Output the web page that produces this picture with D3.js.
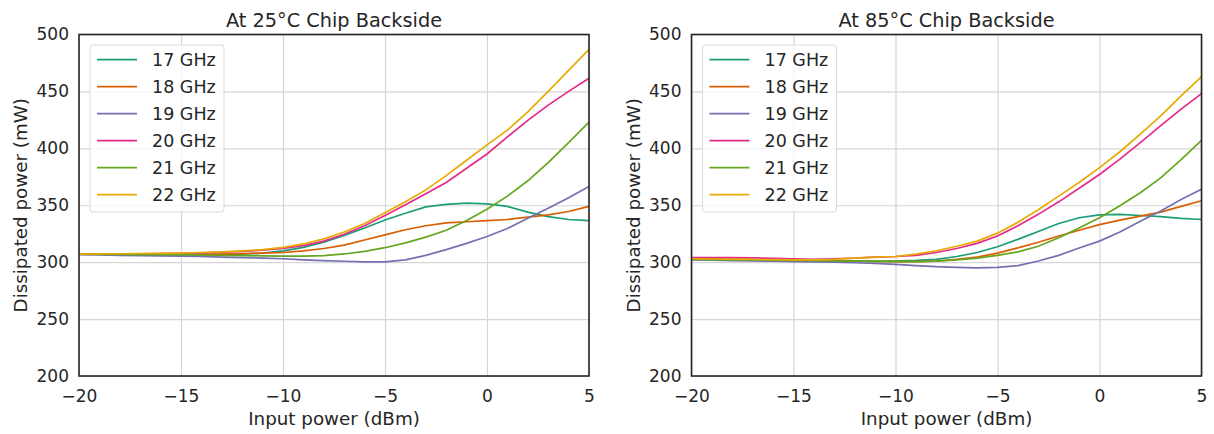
<!DOCTYPE html>
<html>
<head>
<meta charset="utf-8">
<script src="https://cdn.jsdelivr.net/npm/d3@7"></script>
<style>
  body { margin: 0; background: #fff; }
  svg text { font-family: "DejaVu Sans", sans-serif; }
  .grid line { stroke: #d6d6d6; stroke-width: 1.2; }
  .grid path { display: none; }
  .tick text { fill: #262626; font-size: 17px; }
</style>
</head>
<body>
<svg id="chart" width="1214" height="434"></svg>
<script>
// input power sweep (dBm)
var inputPower = [-20, -19, -18, -17, -16, -15, -14, -13, -12, -11, -10, -9, -8, -7, -6, -5, -4, -3, -2, -1, 0, 1, 2, 3, 4, 5];
var freqLabels = ["17 GHz", "18 GHz", "19 GHz", "20 GHz", "21 GHz", "22 GHz"];
var lineColors = ["#1b9e77", "#d95f02", "#7570b3", "#e7298a", "#66a61e", "#e6ab02"];
var xTicks = [-20, -15, -10, -5, 0, 5];
var yTicks = [200, 250, 300, 350, 400, 450, 500];

// dissipated power (mW) at 25 degC chip backside
var p25_17 = [307, 307, 306.8, 306.7, 306.5, 306.4, 306.4, 306.6, 307, 308, 310, 313, 317.5, 323.5, 330, 337, 343, 348.5, 350.8, 351.8, 351.2, 349, 344, 340, 337.5, 336.5];
var p25_18 = [307, 307, 307, 307, 307, 307, 307, 307, 307.5, 308, 308.5, 310, 312, 315, 319.5, 324, 328.5, 332, 334.5, 335.5, 336.5, 337.5, 339.5, 341.5, 344.5, 349];
var p25_19 = [306.5, 306.3, 306, 305.8, 305.5, 305.2, 305, 304.5, 304, 303.5, 303, 302, 301.3, 300.8, 300.2, 300.3, 302, 306, 311, 316.5, 322.5, 329.5, 338.5, 347.3, 356.5, 366.5];
var p25_20 = [307, 307, 307.2, 307.4, 307.6, 307.8, 308.2, 308.7, 309.5, 310.5, 312, 314.5, 318.5, 324.5, 332, 341, 350.5, 360, 370, 382.5, 395, 410, 424.5, 438, 450, 461.5];
var p25_21 = [307, 306.9, 306.8, 306.7, 306.6, 306.5, 306.3, 306, 305.8, 305.5, 305.3, 305.3, 305.8, 307.2, 309.5, 312.7, 317, 322, 328, 336.5, 346.5, 358, 371.5, 387.5, 405, 423];
var p25_22 = [307, 307.2, 307.4, 307.6, 307.8, 308, 308.5, 309, 310, 311, 313, 316, 320.5, 326.5, 334, 343.5, 353, 363.5, 376, 389.5, 403, 416, 432, 450, 468.5, 487];

// dissipated power (mW) at 85 degC chip backside
var p85_17 = [303, 302.8, 302.5, 302.2, 302, 301.5, 301, 301, 301, 301, 301, 301.5, 302.5, 305, 308.5, 313.5, 320, 327, 334, 339, 341.5, 342, 341, 340, 338.5, 337.5];
var p85_18 = [303, 302.8, 302.5, 302.2, 302, 301.5, 301.2, 301, 300.8, 300.6, 300.5, 300.5, 301, 302.5, 304.5, 308, 312.5, 317.5, 323, 328, 333, 337, 340.5, 344, 349, 354];
var p85_19 = [302, 301.7, 301.4, 301.1, 300.8, 300.5, 300.2, 300, 299.5, 299, 298, 297, 296, 295.5, 295, 295.5, 297, 301, 306, 312.5, 318.5, 326.5, 336, 345, 355, 364];
var p85_20 = [304, 304, 304, 303.7, 303.4, 303, 302.5, 303, 303.5, 304.5, 305, 306, 308.5, 312, 316.5, 323, 332, 342, 353, 365, 377, 390.5, 405, 420, 434.5, 448];
var p85_21 = [302.5, 302.3, 302.1, 301.9, 301.7, 301.5, 301.3, 301.1, 300.9, 300.7, 300.5, 300.5, 301, 302, 303.5, 306, 309, 314, 321.5, 330, 339, 349.5, 361, 374, 390, 407];
var p85_22 = [303, 302.8, 302.6, 302.4, 302.2, 302, 302, 302.5, 303.5, 304.5, 305, 307, 310, 314, 318.5, 325.5, 335, 346, 358, 370, 383, 397, 412.5, 428.5, 446, 463];

var panels = [
    {title: "At 25\u00B0C Chip Backside", left: 79, series: [p25_17, p25_18, p25_19, p25_20, p25_21, p25_22]},
    {title: "At 85\u00B0C Chip Backside", left: 691.5, series: [p85_17, p85_18, p85_19, p85_20, p85_21, p85_22]}
];

var plotTop = 34.5, pw = 510, ph = 341.5;
var svg = d3.select("#chart");

panels.forEach(function(p) {
    var g = svg.append("g")
        .attr("transform", "translate(" + p.left + "," + plotTop + ")");

    var x = d3.scaleLinear().domain([-20, 5]).range([0, pw]);
    var y = d3.scaleLinear().domain([200, 500]).range([ph, 0]);

    //grid
    g.append("g").attr("class", "grid")
        .call(d3.axisBottom(x).tickValues(xTicks).tickSize(ph).tickFormat(""));
    g.append("g").attr("class", "grid")
        .call(d3.axisLeft(y).tickValues(yTicks).tickSize(-pw).tickFormat(""));

    //tick labels (no tick marks)
    var xa = g.append("g")
        .attr("transform", "translate(0," + ph + ")")
        .call(d3.axisBottom(x).tickValues(xTicks).tickSize(0).tickPadding(14)
            .tickFormat(function(d) { return d < 0 ? "\u2212" + Math.abs(d) : d; }));
    xa.select(".domain").remove();
    var ya = g.append("g")
        .call(d3.axisLeft(y).tickValues(yTicks).tickSize(0).tickPadding(10));
    ya.select(".domain").remove();

    //lines
    var line = d3.line()
        .x(function(d, i) { return x(inputPower[i]); })
        .y(function(d) { return y(d); });
    g.selectAll("path.series")
        .data(p.series)
        .enter().append("path")
        .attr("class", "series")
        .attr("fill", "none")
        .attr("stroke", function(d, i) { return lineColors[i]; })
        .attr("stroke-width", 1.7)
        .attr("d", line);

    //frame
    g.append("rect")
        .attr("width", pw).attr("height", ph)
        .attr("fill", "none")
        .attr("stroke", "#262626")
        .attr("stroke-width", 1.6);

    //title & axis labels
    g.append("text")
        .attr("x", pw / 2).attr("y", -8)
        .attr("text-anchor", "middle")
        .attr("fill", "#262626")
        .style("font-size", "19.3px")
        .text(p.title);
    g.append("text")
        .attr("x", pw / 2).attr("y", ph + 49)
        .attr("text-anchor", "middle")
        .attr("fill", "#262626")
        .style("font-size", "18.3px")
        .text("Input power (dBm)");
    g.append("text")
        .attr("transform", "translate(-52," + (ph / 2) + ") rotate(-90)")
        .attr("text-anchor", "middle")
        .attr("fill", "#262626")
        .style("font-size", "18.3px")
        .text("Dissipated power (mW)");

    //legend
    var lg = g.append("g").attr("transform", "translate(11,10.5)");
    lg.append("rect")
        .attr("width", 134).attr("height", 167)
        .attr("rx", 3)
        .attr("fill", "#fff").attr("fill-opacity", 0.8)
        .attr("stroke", "#d9d9d9");
    freqLabels.forEach(function(f, i) {
        var yy = 14.7 + i * 27;
        lg.append("line")
            .attr("x1", 7).attr("x2", 47)
            .attr("y1", yy).attr("y2", yy)
            .attr("stroke", lineColors[i])
            .attr("stroke-width", 1.7);
        lg.append("text")
            .attr("x", 62).attr("y", yy)
            .attr("dy", "0.36em")
            .attr("fill", "#262626")
            .style("font-size", "17.5px")
            .text(f);
    });
});
</script>
</body>
</html>
